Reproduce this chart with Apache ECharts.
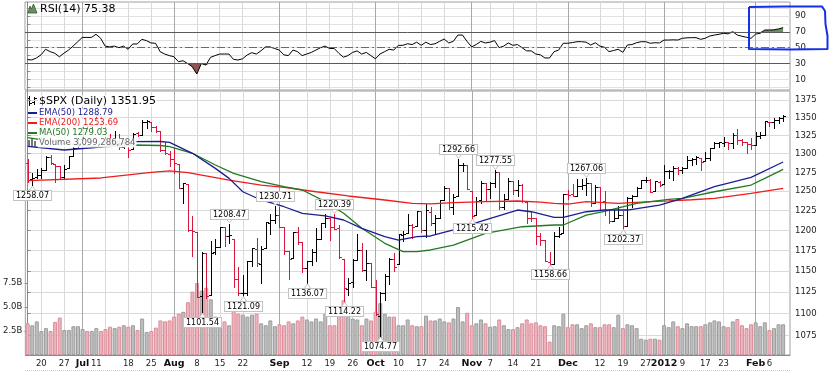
<!DOCTYPE html>
<html><head><meta charset="utf-8">
<script src="https://cdn.jsdelivr.net/npm/echarts@6/dist/echarts.min.js"></script>
<style>html,body{margin:0;padding:0;background:#fff}#c{width:830px;height:372px}</style>
</head><body><div id="c"></div>
<script>
// ---------------- DATA ----------------
const dates = [
 '2011-06-15','06-16','06-17','06-20','06-21','06-22','06-23','06-24','06-27','06-28','06-29','06-30',
 '07-01','07-05','07-06','07-07','07-08','07-11','07-12','07-13','07-14','07-15','07-18','07-19','07-20','07-21','07-22','07-25','07-26','07-27','07-28','07-29',
 '08-01','08-02','08-03','08-04','08-05','08-08','08-09','08-10','08-11','08-12','08-15','08-16','08-17','08-18','08-19','08-22','08-23','08-24','08-25','08-26','08-29','08-30','08-31',
 '09-01','09-02','09-06','09-07','09-08','09-09','09-12','09-13','09-14','09-15','09-16','09-19','09-20','09-21','09-22','09-23','09-26','09-27','09-28','09-29','09-30',
 '10-03','10-04','10-05','10-06','10-07','10-10','10-11','10-12','10-13','10-14','10-17','10-18','10-19','10-20','10-21','10-24','10-25','10-26','10-27','10-28','10-31',
 '11-01','11-02','11-03','11-04','11-07','11-08','11-09','11-10','11-11','11-14','11-15','11-16','11-17','11-18','11-21','11-22','11-23','11-25','11-28','11-29','11-30',
 '12-01','12-02','12-05','12-06','12-07','12-08','12-09','12-12','12-13','12-14','12-15','12-16','12-19','12-20','12-21','12-22','12-23','12-27','12-28','12-29','12-30',
 '2012-01-03','01-04','01-05','01-06','01-09','01-10','01-11','01-12','01-13','01-17','01-18','01-19','01-20','01-23','01-24','01-25','01-26','01-27','01-30','01-31',
 '02-01','02-02','02-03','02-06','02-07','02-08','02-09'];

const opens = [1287.9,1265.5,1268.6,1271.5,1278.4,1295.5,1286.6,1283.0,1268.4,1280.2,1296.9,1307.6,
 1320.6,1339.6,1337.6,1339.6,1352.4,1343.3,1319.6,1314.5,1317.7,1308.9,1315.9,1307.1,1328.7,1325.7,1343.8,1344.3,1337.4,1331.9,1304.8,1300.1,
 1292.6,1286.6,1254.3,1260.2,1200.3,1198.5,1120.2,1171.8,1121.3,1172.9,1178.9,1204.2,1192.9,1189.6,1140.5,1123.6,1124.4,1162.2,1176.7,1158.9,1177.9,1209.8,1213.0,
 1219.1,1203.9,1174.0,1165.9,1198.0,1185.4,1153.5,1162.6,1173.3,1189.4,1209.2,1215.0,1204.5,1203.6,1164.6,1128.8,1136.9,1163.3,1175.4,1151.7,1159.9,
 1131.2,1097.4,1124.0,1144.1,1165.0,1158.2,1194.6,1196.2,1207.0,1205.7,1224.5,1200.8,1223.5,1209.9,1215.4,1238.7,1254.2,1229.2,1244.0,1284.4,1285.0,
 1251.0,1219.6,1238.2,1260.8,1253.2,1261.1,1275.2,1229.6,1240.1,1263.9,1251.7,1257.8,1236.6,1216.2,1215.6,1193.0,1187.5,1161.4,1158.7,1192.6,1196.7,
 1246.9,1246.0,1244.3,1257.2,1258.1,1260.9,1234.5,1255.1,1236.8,1225.7,1212.1,1216.1,1219.7,1205.7,1241.3,1243.7,1254.0,1265.0,1265.4,1249.8,1262.8,
 1258.9,1277.0,1277.3,1280.9,1277.8,1280.8,1292.0,1292.5,1294.8,1290.2,1293.7,1308.1,1314.5,1315.3,1316.0,1314.4,1326.3,1318.3,1316.2,1313.5,
 1312.5,1324.2,1326.2,1344.3,1344.3,1347.0,1350.0];
const highs = [1292.5,1274.1,1279.8,1280.4,1297.6,1298.6,1286.8,1283.9,1284.9,1296.8,1309.2,1322.0,
 1341.0,1340.9,1340.9,1356.5,1352.4,1343.3,1327.2,1331.5,1326.9,1317.7,1315.9,1328.1,1330.4,1347.0,1346.1,1344.3,1338.5,1331.9,1316.3,1304.2,
 1307.4,1286.6,1261.2,1260.2,1218.1,1198.5,1172.9,1171.8,1186.3,1189.0,1204.5,1204.2,1208.47,1189.6,1154.5,1145.5,1162.4,1178.6,1190.7,1181.2,1210.3,1220.1,1230.71,
 1229.3,1203.9,1174.0,1198.6,1204.4,1185.4,1162.5,1176.4,1202.4,1209.1,1220.1,1215.0,1220.39,1206.3,1164.6,1141.7,1164.2,1195.9,1184.7,1175.1,1159.9,
 1139.0,1125.1,1146.1,1165.6,1171.4,1194.9,1199.2,1220.3,1207.5,1224.6,1224.5,1233.1,1229.6,1219.4,1239.0,1256.6,1254.2,1246.3,1292.66,1287.1,1285.0,
 1251.0,1242.5,1263.2,1260.8,1261.7,1277.55,1275.2,1246.2,1267.0,1263.9,1264.3,1259.6,1237.7,1223.5,1215.6,1196.8,1187.5,1172.7,1197.4,1203.7,1247.1,
 1251.1,1260.1,1266.7,1266.0,1267.06,1260.9,1258.3,1255.1,1249.9,1225.7,1225.6,1231.0,1224.6,1242.8,1245.1,1255.2,1265.4,1269.4,1265.9,1263.5,1264.1,
 1284.6,1278.7,1283.1,1281.8,1282.0,1296.5,1293.8,1296.8,1294.8,1303.0,1308.1,1315.5,1315.4,1322.3,1316.0,1328.3,1333.5,1320.1,1316.2,1321.4,
 1330.5,1329.2,1345.3,1344.4,1349.2,1351.0,1354.3];
const lows = [1261.9,1258.07,1267.4,1267.6,1278.4,1286.8,1262.7,1267.2,1267.5,1280.2,1296.9,1307.6,
 1318.2,1330.9,1330.9,1339.6,1333.7,1316.4,1313.3,1314.5,1306.5,1307.3,1295.9,1307.1,1323.7,1325.7,1336.0,1331.1,1329.6,1303.5,1299.2,1282.9,
 1274.7,1254.0,1234.6,1199.5,1168.1,1119.3,1101.54,1118.0,1121.3,1170.7,1178.9,1180.5,1184.8,1131.0,1122.1,1121.09,1121.6,1156.3,1155.6,1135.9,1177.9,1195.8,1209.4,
 1203.9,1170.6,1140.1,1165.9,1183.3,1148.4,1136.07,1157.4,1162.7,1189.4,1204.5,1188.4,1201.3,1166.2,1114.22,1121.4,1131.1,1163.3,1150.4,1139.9,1131.3,
 1098.9,1074.77,1115.7,1134.9,1150.3,1158.2,1187.3,1196.2,1190.6,1205.7,1198.6,1191.5,1206.3,1197.3,1215.4,1238.7,1226.8,1221.1,1244.0,1277.0,1253.2,
 1215.42,1219.6,1234.8,1238.9,1240.8,1255.0,1226.6,1227.7,1240.1,1246.7,1244.3,1235.7,1209.4,1211.4,1183.2,1181.7,1161.8,1158.66,1158.7,1191.8,1196.7,
 1239.7,1243.4,1244.3,1253.0,1244.8,1231.5,1234.5,1227.3,1219.4,1209.5,1212.1,1215.2,1202.37,1205.7,1229.5,1243.7,1254.0,1262.3,1248.6,1249.8,1257.5,
 1258.9,1268.1,1265.3,1273.3,1274.6,1280.8,1285.4,1285.8,1277.6,1290.2,1291.0,1308.1,1309.2,1309.9,1306.1,1307.7,1313.6,1311.7,1300.5,1306.7,
 1312.5,1321.6,1326.2,1337.5,1335.9,1341.9,1344.6];
const closes = [1265.4,1267.6,1271.5,1278.4,1295.5,1287.1,1283.5,1268.5,1280.1,1296.7,1307.4,1320.6,
 1339.7,1337.9,1339.2,1353.2,1343.8,1319.5,1313.6,1317.7,1308.9,1316.1,1305.4,1326.7,1325.8,1343.8,1345.0,1337.4,1331.9,1304.9,1300.7,1292.3,
 1286.9,1254.1,1260.3,1200.1,1199.4,1119.5,1172.5,1120.8,1172.6,1178.8,1204.5,1192.8,1193.9,1140.7,1123.5,1123.8,1162.4,1177.6,1159.3,1176.8,1210.1,1212.9,1218.9,
 1204.4,1174.0,1165.2,1198.6,1185.9,1154.2,1162.3,1172.9,1188.7,1209.1,1216.0,1204.1,1202.1,1166.8,1129.6,1136.4,1163.0,1175.4,1151.1,1160.4,1131.4,
 1099.2,1124.0,1144.0,1165.0,1155.5,1194.9,1195.5,1207.3,1203.7,1224.6,1200.9,1225.4,1209.9,1215.4,1238.3,1254.2,1229.1,1242.0,1284.6,1285.1,1253.3,
 1218.3,1237.9,1261.2,1253.2,1261.1,1275.9,1229.1,1239.7,1263.9,1251.8,1257.8,1236.9,1216.1,1215.7,1193.0,1188.0,1161.8,1158.7,1192.6,1195.2,1247.0,
 1244.6,1244.3,1257.1,1258.5,1261.0,1234.4,1255.2,1236.5,1225.7,1211.8,1215.8,1219.7,1205.4,1241.3,1243.7,1254.0,1265.3,1265.4,1249.6,1263.0,1257.6,
 1277.1,1277.3,1281.1,1277.8,1280.7,1292.1,1292.5,1295.5,1289.1,1293.7,1308.0,1314.5,1315.4,1316.0,1314.7,1326.1,1318.4,1316.3,1313.0,1312.4,
 1324.1,1325.5,1344.9,1344.3,1347.1,1350.0,1351.95];
const prevClose0 = 1287.87;

// volume in billions
const volumes = [3.3,3.1,3.5,2.5,2.8,2.5,3.45,3.9,2.6,2.6,3.0,3.0,2.7,
 2.5,2.5,2.8,2.5,2.7,2.95,2.8,2.95,3.1,2.95,3.1,2.6,3.8,2.4,2.5,2.85,3.6,3.5,3.6,
 4.0,4.3,4.5,5.5,6.6,7.5,6.7,7.0,5.8,4.0,3.5,3.5,3.1,4.6,4.3,4.2,4.0,4.2,4.3,3.3,3.1,3.6,3.0,3.2,
 3.1,3.5,3.3,3.6,4.0,3.7,3.5,3.8,3.5,4.3,3.1,3.1,5.0,5.7,4.8,3.8,3.7,3.1,3.8,3.6,4.5,5.4,4.3,4.0,4.0,3.1,3.1,3.7,3.1,3.0,3.0,4.1,3.6,3.6,3.8,3.5,3.4,3.8,5.0,3.5,4.4,
 3.1,3.3,3.7,3.3,2.95,3.0,3.7,3.1,2.7,2.7,2.9,3.3,3.7,3.3,3.4,3.1,3.0,1.4,
 3.1,3.0,4.3,2.9,3.2,3.2,2.8,3.1,3.3,2.9,2.9,3.2,3.2,2.9,4.2,2.8,3.2,3.1,2.8,1.7,1.6,1.7,1.7,1.6,
 3.1,2.9,3.5,3.0,2.8,3.3,3.0,3.0,3.0,3.2,3.4,3.6,3.5,3.0,2.9,3.5,3.75,3.1,2.8,3.2,3.4,3.0,3.4,2.6,2.8,3.2,3.2];

const rsi = [35,34.5,37,41,48,45,43,38.5,43,47,52,57.5,63,63,63,67,62,52,51,52,50,52,48,54.7,54.7,60.6,59,56,55.6,45,42,40,38.6,32.3,33.5,30,26,16.7,30,28,37.8,40,42,42,42,35.3,34.4,36,40.8,43.7,42,46,51,51,49,
 47,41,40,47,45,40,42,44,47,50,52,49,49,43,38,40,44,46,42,44,40,36,42,45,48,47,53,53,55,54,57,53,57,54,55,58,61,56,58,66,66,58,51,54,58,56,57,59,50,52,56,53,54,50,46,46,42,41,37,
 37,45,47,55.6,55.6,56.5,57.6,57.6,57,53.4,56.3,52,50.5,45,46.5,48,44.2,53.4,54,56.3,57.6,57.6,55.6,56.3,56,59.7,59.7,60,59.7,61.9,62.5,62.7,62.7,60.6,62,64.8,66,67,68.2,67.5,70.2,66,64.5,63.2,61.9,67.3,68.2,72.4,72.4,72.6,73.8,75.38];

// moving averages: [bar index, value]
const ema50 = [[0,1310],[8,1305.1],[16,1309.2],[23,1316.4],[29,1316.7],[31,1315.6],[36,1300.6],[41,1280.3],[44,1267.0],[47,1249.4],[51,1238.7],[56,1230.0],[60,1221.6],[65,1218.2],[69,1213.1],[73,1202.6],[78,1192.1],[81,1188.0],[85,1192.1],[88,1193.0],[93,1200.5],[100,1213.1],[107,1225.8],[110,1223.6],[115,1216.5],[117,1216.5],[122,1223.6],[126,1225.8],[131,1225.8],[138,1232.2],[143,1240.9],[150,1256.0],[158,1268.4],[165,1288.79]];
const ma50 = [[0,1322],[8,1314],[16,1309],[23,1311.9],[29,1311.2],[31,1309.6],[36,1300.6],[41,1284.8],[45,1273.7],[51,1262.6],[56,1256.0],[60,1251.7],[65,1236.5],[69,1221.6],[73,1202.6],[78,1183.9],[82,1173.6],[85,1173.6],[88,1175.7],[93,1181.8],[100,1196.3],[108,1204.6],[115,1206.8],[117,1206.8],[122,1219.4],[126,1224],[133,1234.4],[140,1239.6],[143,1240.9],[150,1249.4],[158,1258.2],[161,1267.0],[165,1279.03]];
const ema200 = [[0,1264],[16,1267.5],[27,1275],[31,1277],[35,1274.5],[44,1264.8],[51,1258.2],[56,1255.2],[63,1249.4],[70,1243.9],[78,1238.7],[84,1234.4],[88,1233.8],[93,1235.2],[100,1236.5],[107,1237.4],[112,1236],[115,1234.4],[118,1233.5],[122,1236.5],[129,1234.4],[136,1236.5],[140,1237.6],[145,1239],[150,1240.9],[158,1247.4],[165,1253.69]];

// annotated highs / lows: [bar index, value, 1 = label below (low), -1 = label above (high)]
const notes = [[1,1258.07,1],[38,1101.54,1],[44,1208.47,-1],[47,1121.09,1],[54,1230.71,-1],[61,1136.07,1],[67,1220.39,-1],[69,1114.22,1],[77,1074.77,1],[94,1292.66,-1],[97,1215.42,1],[102,1277.55,-1],[114,1158.66,1],[122,1267.06,-1],[130,1202.37,1]];

const priceTicks = [1075,1100,1125,1150,1175,1200,1225,1250,1275,1300,1325,1350,1375];
const rsiTicks = [10,30,50,70,90];
const rsiGrid = [0,10,20,30,40,50,60,70,80,90,100];
const volTicks = [2.5,5,7.5];
const xTickIdx  = [3,8,12,15,22,27,32,37,42,47,55,61,66,71,76,81,86,91,97,101,106,111,118,125,130,135,139,143,148,152,159,162];
const xTickText = ['20','27','Jul','11','18','25','Aug','8','15','22','Sep','12','19','26','Oct','10','17','24','Nov','7','14','21','Dec','12','19','27','2012','9','17','23','Feb','6'];
const weekIdx = [3,8,17,22,27,37,42,47,61,66,71,81,86,91,101,106,111,125,130,135,143,148,152,162];
const monthIdx = [12,32,55,76,97,118,139,159];
const boldLabels = ['Jul','Aug','Sep','Oct','Nov','Dec','2012','Feb'];

// ---------------- CHART ----------------
const FONT = 'DejaVu Sans';
const UP = '#000000', DN = '#d8173f';
const ohlcData = closes.map((c, i) => [i, opens[i], highs[i], lows[i], c, c >= (i ? closes[i-1] : prevClose0) ? 1 : 0]);
const volData = volumes.map((v, i) => ({
  value: [i, v],
  itemStyle: ohlcData[i][5] ? {color:'#bebebe', borderColor:'#9d9d9d'} : {color:'#eab5bd', borderColor:'#dc8d9a'}
}));
const rsiData = rsi.map((v, i) => [i, v]);

const chart = echarts.init(document.getElementById('c'), null, {renderer:'canvas'});

const xBase = (grid, labels) => ({
  type:'value', gridIndex:grid, min:-0.5, max:166.5, position:'bottom',
  axisLine:{show:labels, lineStyle:{color:'#8a8a8a'}},
  axisTick:{show:false, customValues:weekIdx},
  splitLine:{show:true, lineStyle:{color:'#dadada', width:1}},
  axisLabel: labels ? {
    show:true, customValues:xTickIdx, margin:4, fontSize:8.5, fontFamily:FONT, color:'#222',
    formatter:(v) => { const k = xTickIdx.indexOf(Math.round(v)); const t = k >= 0 ? xTickText[k] : '';
      return boldLabels.indexOf(t) >= 0 ? '{m|' + t + '}' : t; },
    rich:{m:{fontWeight:'bold', fontSize:9.5, fontFamily:FONT, color:'#111'}}
  } : {show:false}
});
const xMonth = (grid) => ({
  type:'value', gridIndex:grid, min:-0.5, max:166.5, position:'top',
  axisLine:{show:false}, axisLabel:{show:false},
  axisTick:{show:false, customValues:monthIdx},
  splitLine:{show:true, lineStyle:{color:'#a9a9a9', width:1}}
});

const option = {
  animation:false,
  backgroundColor:'#fff',
  grid:[
    {left:25, top:2, width:765, height:88, show:true, borderColor:'#a0a0a0', borderWidth:1, backgroundColor:'#fff'},
    {left:25, top:91, width:765, height:264, show:true, borderColor:'#a0a0a0', borderWidth:1, backgroundColor:'#fff'}
  ],
  xAxis:[ xBase(0,false), xMonth(0), xBase(1,true), xMonth(1) ],
  yAxis:[
    {type:'value', gridIndex:0, position:'right', min:-3.54, max:107.85,
      axisLine:{show:true, lineStyle:{color:'#8a8a8a'}},
      axisTick:{show:true, length:3, customValues:rsiGrid, lineStyle:{color:'#8a8a8a'}},
      splitLine:{show:true, lineStyle:{color:'#e2e2e2'}},
      axisLabel:{customValues:rsiTicks, margin:5, fontSize:8.5, fontFamily:FONT, color:'#222'}},
    {type:'log', gridIndex:1, position:'right', min:1053.6, max:1388.0, logBase:10,
      axisLine:{show:true, lineStyle:{color:'#8a8a8a'}},
      axisTick:{show:true, length:3, customValues:priceTicks, lineStyle:{color:'#8a8a8a'}},
      splitLine:{show:true, lineStyle:{color:'#dadada'}},
      axisLabel:{customValues:priceTicks, margin:5, fontSize:8.5, fontFamily:FONT, color:'#222',
        formatter:(v) => String(Math.round(v))}},
    {type:'value', gridIndex:1, position:'left', min:0, max:27.5,
      axisLine:{show:true, lineStyle:{color:'#8a8a8a'}},
      axisTick:{show:true, length:3, customValues:volTicks, lineStyle:{color:'#8a8a8a'}},
      splitLine:{show:false},
      axisLabel:{customValues:volTicks, margin:3, fontSize:8.5, fontFamily:FONT, color:'#222',
        formatter:(v) => v.toFixed(1) + 'B'}}
  ],
  series:[
    {type:'line', name:'rsiUp', xAxisIndex:0, yAxisIndex:0, data:rsiData.map(d => [d[0], Math.max(d[1], 70)]),
      symbol:'none', lineStyle:{width:0, opacity:0}, areaStyle:{origin:70, color:'#6b8f63', opacity:1}, z:2, silent:true},
    {type:'line', name:'rsiDn', xAxisIndex:0, yAxisIndex:0, data:rsiData.map(d => [d[0], Math.min(d[1], 30)]),
      symbol:'none', lineStyle:{width:0, opacity:0}, areaStyle:{origin:30, color:'#8e5656', opacity:1}, z:2, silent:true},
    {type:'line', name:'RSI', xAxisIndex:0, yAxisIndex:0, data:rsiData, symbol:'none',
      lineStyle:{color:'#000', width:1}, z:4,
      markLine:{silent:true, symbol:'none', label:{show:false},
        data:[
          {yAxis:70, lineStyle:{color:'#5a5a5a', width:1, type:'solid'}},
          {yAxis:30, lineStyle:{color:'#5a5a5a', width:1, type:'solid'}},
          {yAxis:50, lineStyle:{color:'#6a6a6a', width:1, type:[8,3,2,3]}}
        ]}},
    {type:'bar', name:'Volume', xAxisIndex:2, yAxisIndex:2, data:volData, barWidth:4,
      itemStyle:{borderWidth:1}, z:1, silent:true},
    {type:'line', name:'EMA200', xAxisIndex:2, yAxisIndex:1, data:ema200, symbol:'none', lineStyle:{color:'#ee1d1d', width:1.3}, z:5},
    {type:'line', name:'MA50', xAxisIndex:2, yAxisIndex:1, data:ma50, symbol:'none', lineStyle:{color:'#237a23', width:1.3}, z:5},
    {type:'line', name:'EMA50', xAxisIndex:2, yAxisIndex:1, data:ema50, symbol:'none', lineStyle:{color:'#1d1d92', width:1.3}, z:5},
    {type:'custom', name:'SPX', xAxisIndex:2, yAxisIndex:1, data:ohlcData, z:4, silent:true,
      encode:{x:0, y:[1,2,3,4]},
      renderItem:(params, api) => {
        const i = api.value(0);
        const o = api.coord([i, api.value(1)]);
        const h = api.coord([i, api.value(2)]);
        const l = api.coord([i, api.value(3)]);
        const c = api.coord([i, api.value(4)]);
        const x = Math.round(h[0]) + 0.5;
        const st = {stroke: api.value(5) ? UP : DN, lineWidth:1};
        const yo = Math.round(o[1]) + 0.5, yc = Math.round(c[1]) + 0.5;
        return {type:'group', children:[
          {type:'line', shape:{x1:x, y1:Math.round(h[1]), x2:x, y2:Math.round(l[1]) + 1}, style:st},
          {type:'line', shape:{x1:x - 2.5, y1:yo, x2:x, y2:yo}, style:st},
          {type:'line', shape:{x1:x, y1:yc, x2:x + 2.5, y2:yc}, style:st}
        ]};
      }},
    {type:'custom', name:'notes', xAxisIndex:2, yAxisIndex:1, data:notes, z:8, silent:true,
      encode:{x:0, y:1},
      renderItem:(params, api) => {
        const n = notes[params.dataIndex];
        const p = api.coord([n[0], n[1]]);
        const x = Math.round(p[0]) + 0.5;
        const dir = n[2];
        const gap = 6;
        const edge = Math.round(p[1] + dir * gap) + 0.5;
        const tip = p[1] + dir * 1;
        return {type:'group', children:[
          {type:'polygon', shape:{points:[[x - 4, edge], [x + 4, edge], [x, tip]]}, style:{fill:'#fff', stroke:'#c2c2c2', lineWidth:1}},
          {type:'text', style:{text:n[1].toFixed(2), x:x, y: dir > 0 ? edge - 0.5 : edge + 0.5, align:'center',
            verticalAlign: dir > 0 ? 'top' : 'bottom', fontSize:8, fontFamily:FONT, fill:'#000',
            backgroundColor:'#fff', borderColor:'#c2c2c2', borderWidth:1, padding:[1,2,0,2]}}
        ]};
      }}
  ],
  graphic:[
    // RSI legend
    {type:'polygon', shape:{points:[[28,13],[30,6],[31.5,9],[33.5,4],[37,13]]}, style:{fill:'#6b8f63', stroke:'#2e5a2a', lineWidth:0.8}, z:20},
    {type:'text', x:40, y:9, style:{text:'RSI(14) 75.38', fontSize:11, fontFamily:FONT, fill:'#000', verticalAlign:'middle'}, z:20},
    // price legend
    {type:'group', z:20, children:[
      {type:'line', shape:{x1:29.5, y1:96, x2:29.5, y2:106}, style:{stroke:'#000', lineWidth:1}},
      {type:'line', shape:{x1:27, y1:98.5, x2:29.5, y2:98.5}, style:{stroke:'#000', lineWidth:1}},
      {type:'line', shape:{x1:29.5, y1:103.5, x2:32, y2:103.5}, style:{stroke:'#000', lineWidth:1}},
      {type:'line', shape:{x1:34.5, y1:97, x2:34.5, y2:105}, style:{stroke:'#000', lineWidth:1}},
      {type:'line', shape:{x1:32, y1:102.5, x2:34.5, y2:102.5}, style:{stroke:'#000', lineWidth:1}},
      {type:'line', shape:{x1:34.5, y1:98.5, x2:37, y2:98.5}, style:{stroke:'#000', lineWidth:1}}
    ]},
    {type:'text', x:38, y:101, z:20, style:{text:'$SPX (Daily) 1351.95', fontSize:11, fontFamily:FONT, fill:'#000', verticalAlign:'middle', backgroundColor:'rgba(255,255,255,0.9)', padding:[0,1,0,1]}},
    {type:'line', z:20, shape:{x1:28, y1:113, x2:37, y2:113}, style:{stroke:'#1d1d92', lineWidth:2}},
    {type:'text', x:38, y:113, z:20, style:{text:'EMA(50) 1288.79', fontSize:8.5, fontFamily:FONT, fill:'#1d1d92', verticalAlign:'middle', backgroundColor:'rgba(255,255,255,0.9)', padding:[0,1,0,1]}},
    {type:'line', z:20, shape:{x1:28, y1:123, x2:37, y2:123}, style:{stroke:'#ee1d1d', lineWidth:2}},
    {type:'text', x:38, y:123, z:20, style:{text:'EMA(200) 1253.69', fontSize:8.5, fontFamily:FONT, fill:'#ee1d1d', verticalAlign:'middle', backgroundColor:'rgba(255,255,255,0.9)', padding:[0,1,0,1]}},
    {type:'line', z:20, shape:{x1:28, y1:133, x2:37, y2:133}, style:{stroke:'#237a23', lineWidth:2}},
    {type:'text', x:38, y:133, z:20, style:{text:'MA(50) 1279.03', fontSize:8.5, fontFamily:FONT, fill:'#237a23', verticalAlign:'middle', backgroundColor:'rgba(255,255,255,0.9)', padding:[0,1,0,1]}},
    {type:'group', z:20, children:[
      {type:'rect', shape:{x:28, y:140, width:2, height:7}, style:{fill:'#777'}},
      {type:'rect', shape:{x:31, y:138, width:2, height:9}, style:{fill:'#777'}},
      {type:'rect', shape:{x:34, y:141, width:2, height:6}, style:{fill:'#777'}}
    ]},
    {type:'text', x:38, y:143, z:20, style:{text:'Volume 3,099,286,784', fontSize:8.5, fontFamily:FONT, fill:'#666', verticalAlign:'middle', backgroundColor:'rgba(255,255,255,0.9)', padding:[0,1,0,1]}},
    // bottom dotted line
    {type:'line', z:1, shape:{x1:25, y1:370.5, x2:790, y2:370.5}, style:{stroke:'#c8c8c8', lineWidth:1, lineDash:[1,1]}},
    // hand-drawn blue highlight
    {type:'polyline', z:30, shape:{points:[[749,7],[785,6.5],[822,6.5],[825,11],[825.5,24],[827.5,36],[827.5,49],[790,49.5],[749,49],[749,7]]},
      style:{stroke:'#1530e6', lineWidth:2, fill:null, lineJoin:'round'}}
  ]
};
chart.setOption(option);
</script>
</body></html>
